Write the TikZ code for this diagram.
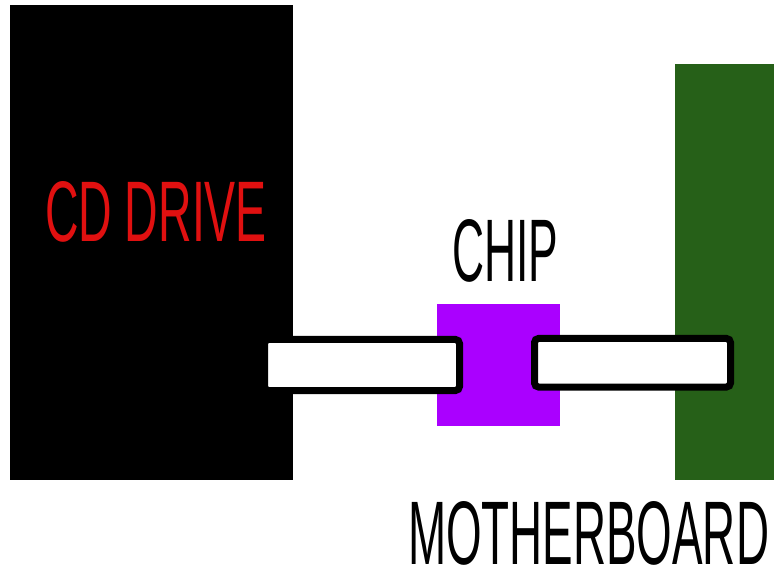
\documentclass[tikz,border=0pt]{standalone}
\usepackage{fontspec}
\setmainfont{Liberation Sans}
\usepackage{graphicx}
\definecolor{boardgreen}{RGB}{38,96,24}
\definecolor{chippurple}{RGB}{170,0,255}
\definecolor{labelred}{RGB}{224,16,16}
\begin{document}
\begin{tikzpicture}[x=1pt,y=-1pt,
  block/.style={draw=none,inner sep=0pt,outer sep=0pt,anchor=north west},
  bar/.style={draw=black,fill=white,line width=7pt,rounded corners=4pt,inner sep=0pt,outer sep=0pt,anchor=north west},
  lbl/.style={inner sep=0pt,outer sep=0pt,anchor=south west}]
\useasboundingbox (0,0) rectangle (774,569);
\node[block,fill=black,minimum width=283pt,minimum height=475pt] (cd) at (10,5) {};
\node[block,fill=boardgreen,minimum width=100pt,minimum height=416pt] (mb) at (675,64) {};
\node[block,fill=chippurple,minimum width=123pt,minimum height=122pt] (chip) at (437,304) {};
\node[bar,minimum width=195pt,minimum height=51pt] (lbar) at (264.5,339.5) {};
\node[bar,minimum width=196pt,minimum height=48.5pt] (rbar) at (534.5,338.5) {};
\node[lbl,text=labelred] (cdl) at (45,242) {\resizebox{222pt}{60pt}{CD DRIVE}};
\node[lbl,text=black] (chipl) at (452,282) {\resizebox{106pt}{62pt}{CHIP}};
\node[lbl,text=black] (mbl) at (408,565) {\resizebox{361pt}{63pt}{MOTHERBOARD}};
\end{tikzpicture}
\end{document}
